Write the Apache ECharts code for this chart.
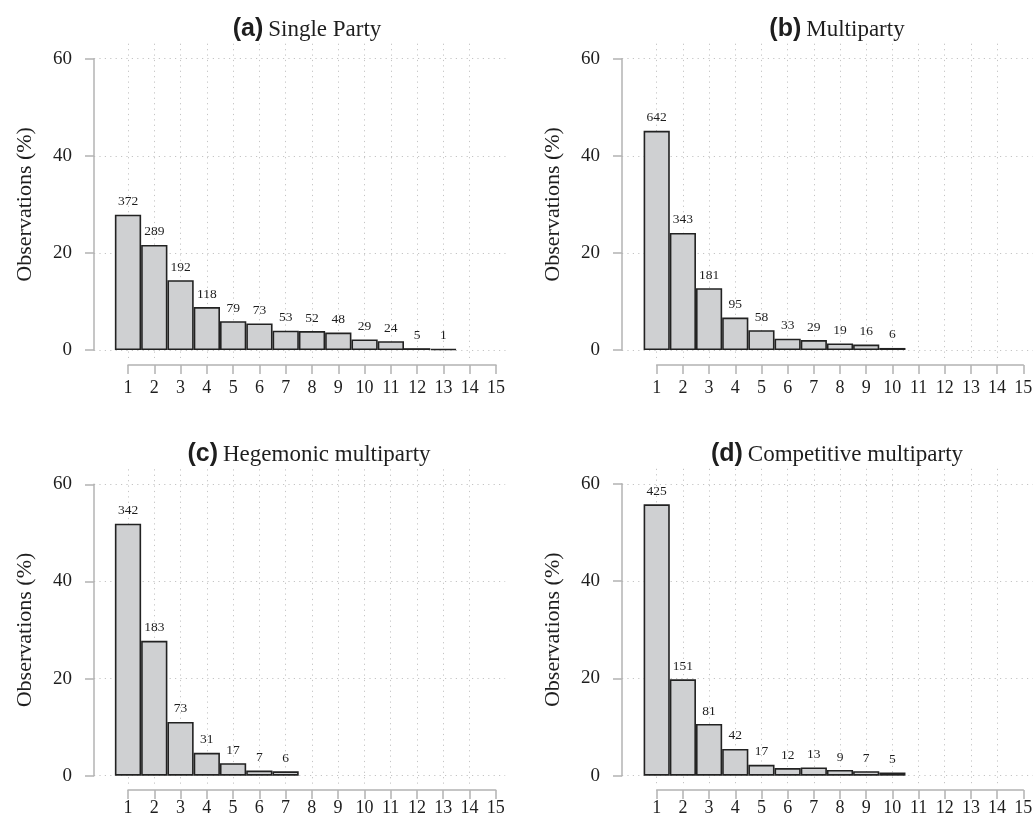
<!DOCTYPE html>
<html><head><meta charset="utf-8">
<script src="https://cdn.jsdelivr.net/npm/echarts@6/dist/echarts.min.js"></script>
<style>html,body{margin:0;padding:0;background:#fff}#c{width:1036px;height:820px}</style>
</head><body><div id="c"></div>
<script>
// ---- data ----
const xCategories = ['1','2','3','4','5','6','7','8','9','10','11','12','13','14','15'];
const yTicks = [0, 20, 40, 60];
const panelTags = ['(a)', '(b)', '(c)', '(d)'];
const panelNames = ['Single Party', 'Multiparty', 'Hegemonic multiparty', 'Competitive multiparty'];
const countsSingleParty = [372, 289, 192, 118, 79, 73, 53, 52, 48, 29, 24, 5, 1];
const countsMultiparty = [642, 343, 181, 95, 58, 33, 29, 19, 16, 6];
const countsHegemonic = [342, 183, 73, 31, 17, 7, 6];
const countsCompetitive = [425, 151, 81, 42, 17, 12, 13, 9, 7, 5];
const yAxisTitle = 'Observations (%)';

// ---- layout (pixels) ----
const layouts = [
  {ax: 87,  y60: 58.7,  y0: 350,   x1: 128,   x15: 496,    xAxisY: 365, lblMargin: 14, titleX: 302, titleY: 12},
  {ax: 615, y60: 58.7,  y0: 350,   x1: 656.7, x15: 1023.3, xAxisY: 365, lblMargin: 14, titleX: 832, titleY: 12},
  {ax: 87,  y60: 484.3, y0: 775.7, x1: 128,   x15: 495.7,  xAxisY: 790, lblMargin: 9,  titleX: 304, titleY: 437},
  {ax: 615, y60: 483.8, y0: 775.7, x1: 656.7, x15: 1023.3, xAxisY: 790, lblMargin: 9,  titleX: 832, titleY: 437}
];
const allCounts = [countsSingleParty, countsMultiparty, countsHegemonic, countsCompetitive];

const SERIF = "'Liberation Serif', 'Times New Roman', serif";
const SANS = "'Liberation Sans', Arial, sans-serif";
const TXT = '#1e1e1e';
const AXC = '#b3b3b3';
const GRIDC = '#c4c4c4';
const dots = [1.2, 4.2];

const grid = [], xAxis = [], yAxis = [], series = [], title = [];
const yMin = yTicks[0], yMax = yTicks[yTicks.length - 1], yInt = yTicks[1] - yTicks[0];
const xMin = Number(xCategories[0]), xMax = Number(xCategories[xCategories.length - 1]);

layouts.forEach((L, k) => {
  const unit = (L.x15 - L.x1) / (xMax - xMin);
  const rightEdge = L.x15 + 9.5;
  const base = grid.length;
  const noOuter = {outerBoundsMode: 'none', containLabel: false};

  // 0: y axis + horizontal dotted grid
  grid.push(Object.assign({left: L.ax + 7, top: L.y60, width: rightEdge - L.ax - 7, height: L.y0 - L.y60}, noOuter));
  xAxis.push({gridIndex: base, type: 'value', show: false, min: 0, max: 1});
  yAxis.push({
    gridIndex: base, type: 'value', min: yMin, max: yMax, interval: yInt, offset: 7,
    name: yAxisTitle, nameLocation: 'middle', nameGap: 51,
    nameTextStyle: {fontFamily: SERIF, fontSize: 22, color: TXT},
    axisLine: {show: true, lineStyle: {color: AXC, width: 1.5}},
    axisTick: {show: true, inside: false, length: 9, lineStyle: {color: AXC, width: 1.5}},
    axisLabel: {margin: 15, fontFamily: SERIF, fontSize: 19, color: TXT},
    splitLine: {show: true, lineStyle: {color: GRIDC, width: 1, type: dots}}
  });

  // 1: vertical dotted grid lines
  grid.push(Object.assign({left: L.x1, top: L.y60 - 15, width: unit * (xMax - 1 - xMin), height: (L.y0 + 8) - (L.y60 - 15)}, noOuter));
  xAxis.push({
    gridIndex: base + 1, type: 'value', min: xMin, max: xMax - 1, interval: 1,
    axisLine: {show: false}, axisTick: {show: false}, axisLabel: {show: false},
    splitLine: {show: true, lineStyle: {color: GRIDC, width: 1, type: dots}}
  });
  yAxis.push({gridIndex: base + 1, type: 'value', show: false, min: 0, max: 1, splitLine: {show: false}});

  // 2: bars
  grid.push(Object.assign({left: L.x1 - unit / 2, top: L.y60, width: unit * xCategories.length, height: L.y0 - L.y60}, noOuter));
  xAxis.push({gridIndex: base + 2, type: 'category', data: xCategories, show: false, boundaryGap: true});
  yAxis.push({gridIndex: base + 2, type: 'value', show: false, min: yMin, max: yMax, splitLine: {show: false}});
  const counts = allCounts[k];
  const total = counts.reduce((a, b) => a + b, 0);
  series.push({
    type: 'bar', xAxisIndex: base + 2, yAxisIndex: base + 2,
    barCategoryGap: '0%', barWidth: '100%', barMinHeight: 1,
    data: xCategories.map((c, i) => i < counts.length ? counts[i] / total * 100 : '-'),
    itemStyle: {color: '#cfd0d2', borderColor: '#222222', borderWidth: 1.6},
    label: {
      show: true, position: 'top', distance: 6,
      fontFamily: SERIF, fontSize: 13.5, color: TXT,
      formatter: p => String(counts[p.dataIndex])
    },
    emphasis: {disabled: true}, silent: true, animation: false
  });

  // 3: x axis
  grid.push(Object.assign({left: L.x1, top: L.xAxisY - 10, width: L.x15 - L.x1, height: 10}, noOuter));
  xAxis.push({
    gridIndex: base + 3, type: 'value', min: xMin, max: xMax, interval: 1, position: 'bottom',
    axisLine: {show: true, lineStyle: {color: AXC, width: 1.5}},
    axisTick: {show: true, inside: false, length: 9, lineStyle: {color: AXC, width: 1.5}},
    axisLabel: {margin: L.lblMargin, fontFamily: SERIF, fontSize: 18, color: TXT},
    splitLine: {show: false}
  });
  yAxis.push({gridIndex: base + 3, type: 'value', show: false, min: 0, max: 1, splitLine: {show: false}});

  title.push({
    text: '{b|' + panelTags[k] + '} {n|' + panelNames[k] + '}',
    left: L.titleX, top: L.titleY, textAlign: 'center',
    textStyle: {
      fontWeight: 'normal',
      rich: {
        b: {fontFamily: SANS, fontWeight: 'bold', fontSize: 25, color: TXT},
        n: {fontFamily: SERIF, fontWeight: 'normal', fontSize: 23, color: TXT}
      }
    }
  });
});

const chart = echarts.init(document.getElementById('c'), null, {renderer: 'canvas'});
chart.setOption({backgroundColor: '#ffffff', animation: false, title, grid, xAxis, yAxis, series});
</script>
</body></html>
